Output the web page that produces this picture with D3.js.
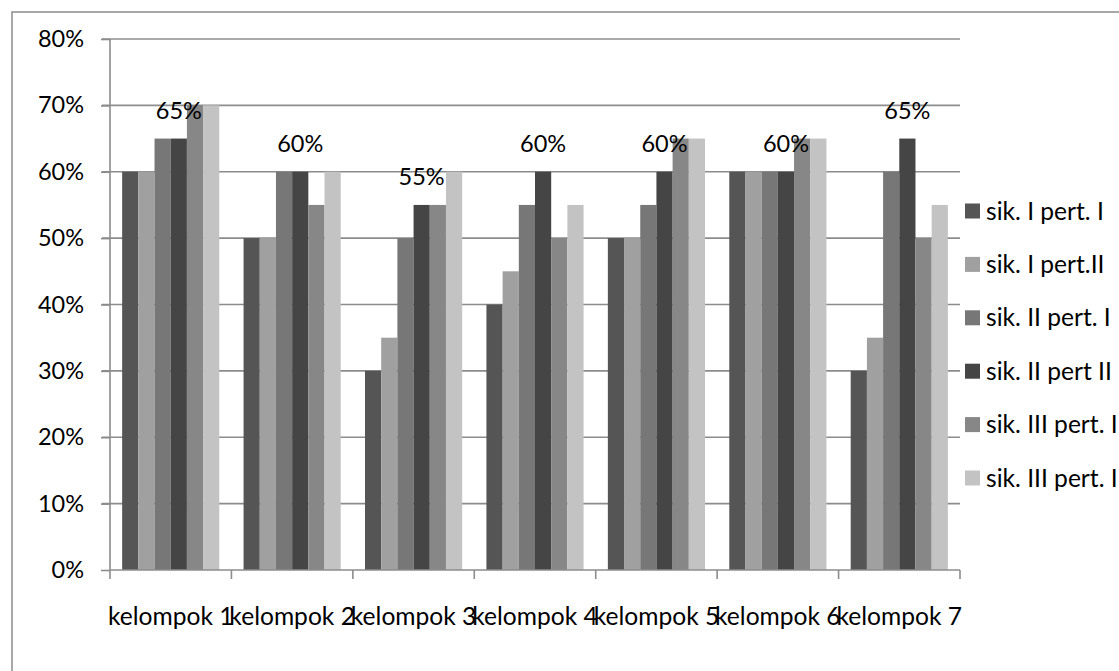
<!DOCTYPE html>
<html>
<head>
<meta charset="utf-8">
<script src="https://cdn.jsdelivr.net/npm/d3@7"></script>
<style>
  html, body { margin: 0; padding: 0; background: #fff; overflow: hidden; }
  svg { display: block; font-family: Lato, "Open Sans", sans-serif; }
</style>
</head>
<body>
<svg id="chart" width="1119" height="671"></svg>
<script>
// Category names along the x axis
const categories = ["kelompok 1", "kelompok 2", "kelompok 3", "kelompok 4", "kelompok 5", "kelompok 6", "kelompok 7"];

// Series names (legend order)
const seriesNames = ["sik. I pert. I", "sik. I pert.II", "sik. II pert. I", "sik. II pert II", "sik. III pert. I", "sik. III pert. I"];

// Values per series, one entry per kelompok (percent)
const sikIPertI    = [60, 50, 30, 40, 50, 60, 30];
const sikIPertII   = [60, 50, 35, 45, 50, 60, 35];
const sikIIPertI   = [65, 60, 50, 55, 55, 60, 60];
const sikIIPertII  = [65, 60, 55, 60, 60, 60, 65];
const sikIIIPertI  = [70, 55, 55, 50, 65, 65, 50];
const sikIIIPertII = [70, 60, 60, 55, 65, 65, 55];

// Series carrying data labels above its bars
const labelledSeries = 3;

// Y axis ticks
const yTicks = [0, 10, 20, 30, 40, 50, 60, 70, 80];

const seriesValues = [sikIPertI, sikIPertII, sikIIPertI, sikIIPertII, sikIIIPertI, sikIIIPertII];
const seriesColors = ["#555555", "#a0a0a0", "#777777", "#454545", "#878787", "#c3c3c3"];

const svg = d3.select("#chart");
const plot = { left: 110, right: 960, top: 39, bottom: 570 };
const numSize = 23.5;
const textSize = 24.6;
const gridColor = "#8c8c8c";

// Outer chart frame
svg.append("rect")
  .attr("x", 12).attr("y", 12)
  .attr("width", 1200).attr("height", 700)
  .attr("fill", "none").attr("stroke", gridColor).attr("stroke-width", 1.5);

const x0 = d3.scaleBand().domain(categories).range([plot.left, plot.right]).paddingInner(0).paddingOuter(0);
// Gap width 150%: 6 bars + 1.5 bar widths per category
const x1 = d3.scaleBand().domain(d3.range(seriesNames.length))
  .range([0, x0.bandwidth()]).paddingInner(0).paddingOuter(0.75);
const y = d3.scaleLinear().domain([0, 80]).range([plot.bottom, plot.top]);

// Horizontal gridlines with tick stubs
const grid = svg.append("g");
grid.selectAll("line")
  .data(yTicks.filter(t => t > 0))
  .join("line")
  .attr("x1", plot.left - 8).attr("x2", plot.right)
  .attr("y1", d => y(d)).attr("y2", d => y(d))
  .attr("stroke", gridColor).attr("stroke-width", 1.6);

// Bars
const groups = svg.append("g").selectAll("g")
  .data(categories)
  .join("g")
  .attr("transform", d => `translate(${x0(d)},0)`);

groups.selectAll("rect")
  .data((c, ci) => seriesValues.map((vals, si) => ({ si, v: vals[ci] })))
  .join("rect")
  .attr("x", d => x1(d.si))
  .attr("width", x1.bandwidth())
  .attr("y", d => y(d.v))
  .attr("height", d => y(0) - y(d.v))
  .attr("fill", d => seriesColors[d.si]);

// Data labels for the labelled series
svg.append("g").selectAll("text")
  .data(categories)
  .join("text")
  .attr("x", (c) => x0(c) + x1(labelledSeries) + x1.bandwidth() / 2)
  .attr("y", (c, i) => y(seriesValues[labelledSeries][i]) - 20)
  .attr("text-anchor", "middle")
  .attr("font-size", numSize)
  .attr("fill", "#000")
  .text((c, i) => seriesValues[labelledSeries][i] + "%");

// Y axis
const yAxis = svg.append("g")
  .attr("transform", `translate(${plot.left},0)`)
  .call(d3.axisLeft(y).tickValues(yTicks).tickSize(9).tickPadding(17).tickFormat(d => d + "%"));
yAxis.select(".domain").attr("stroke", gridColor).attr("stroke-width", 1.6)
  .attr("d", `M0,${plot.top}V${plot.bottom}`);
yAxis.selectAll(".tick line").attr("stroke", gridColor).attr("stroke-width", 1.6);
yAxis.selectAll(".tick text").attr("font-size", numSize).attr("font-family", "Lato, sans-serif").attr("fill", "#000");

// X axis with boundary ticks between categories
const xAxisG = svg.append("g").attr("transform", `translate(0,${plot.bottom})`);
xAxisG.append("line")
  .attr("x1", plot.left).attr("x2", plot.right)
  .attr("stroke", gridColor).attr("stroke-width", 1.6);
xAxisG.selectAll(".bound")
  .data(categories.map(c => x0(c)).concat([plot.right]))
  .join("line")
  .attr("class", "bound")
  .attr("x1", d => d).attr("x2", d => d)
  .attr("y1", 0).attr("y2", 9)
  .attr("stroke", gridColor).attr("stroke-width", 1.6);
xAxisG.selectAll("text")
  .data(categories)
  .join("text")
  .attr("x", d => x0(d) + x0.bandwidth() / 2)
  .attr("y", 55)
  .attr("text-anchor", "middle")
  .attr("font-size", textSize)
  .attr("fill", "#000")
  .text(d => d);

// Legend
const legend = svg.append("g").attr("transform", "translate(965,0)");
const rows = legend.selectAll("g")
  .data(seriesNames)
  .join("g")
  .attr("transform", (d, i) => `translate(0,${211 + i * 53.4})`);
rows.append("rect")
  .attr("x", 0).attr("y", -7.5)
  .attr("width", 15).attr("height", 15)
  .attr("fill", (d, i) => seriesColors[i]);
rows.append("text")
  .attr("x", 21).attr("y", 8.5)
  .attr("font-size", textSize)
  .attr("fill", "#000")
  .text(d => d);
</script>
</body>
</html>
